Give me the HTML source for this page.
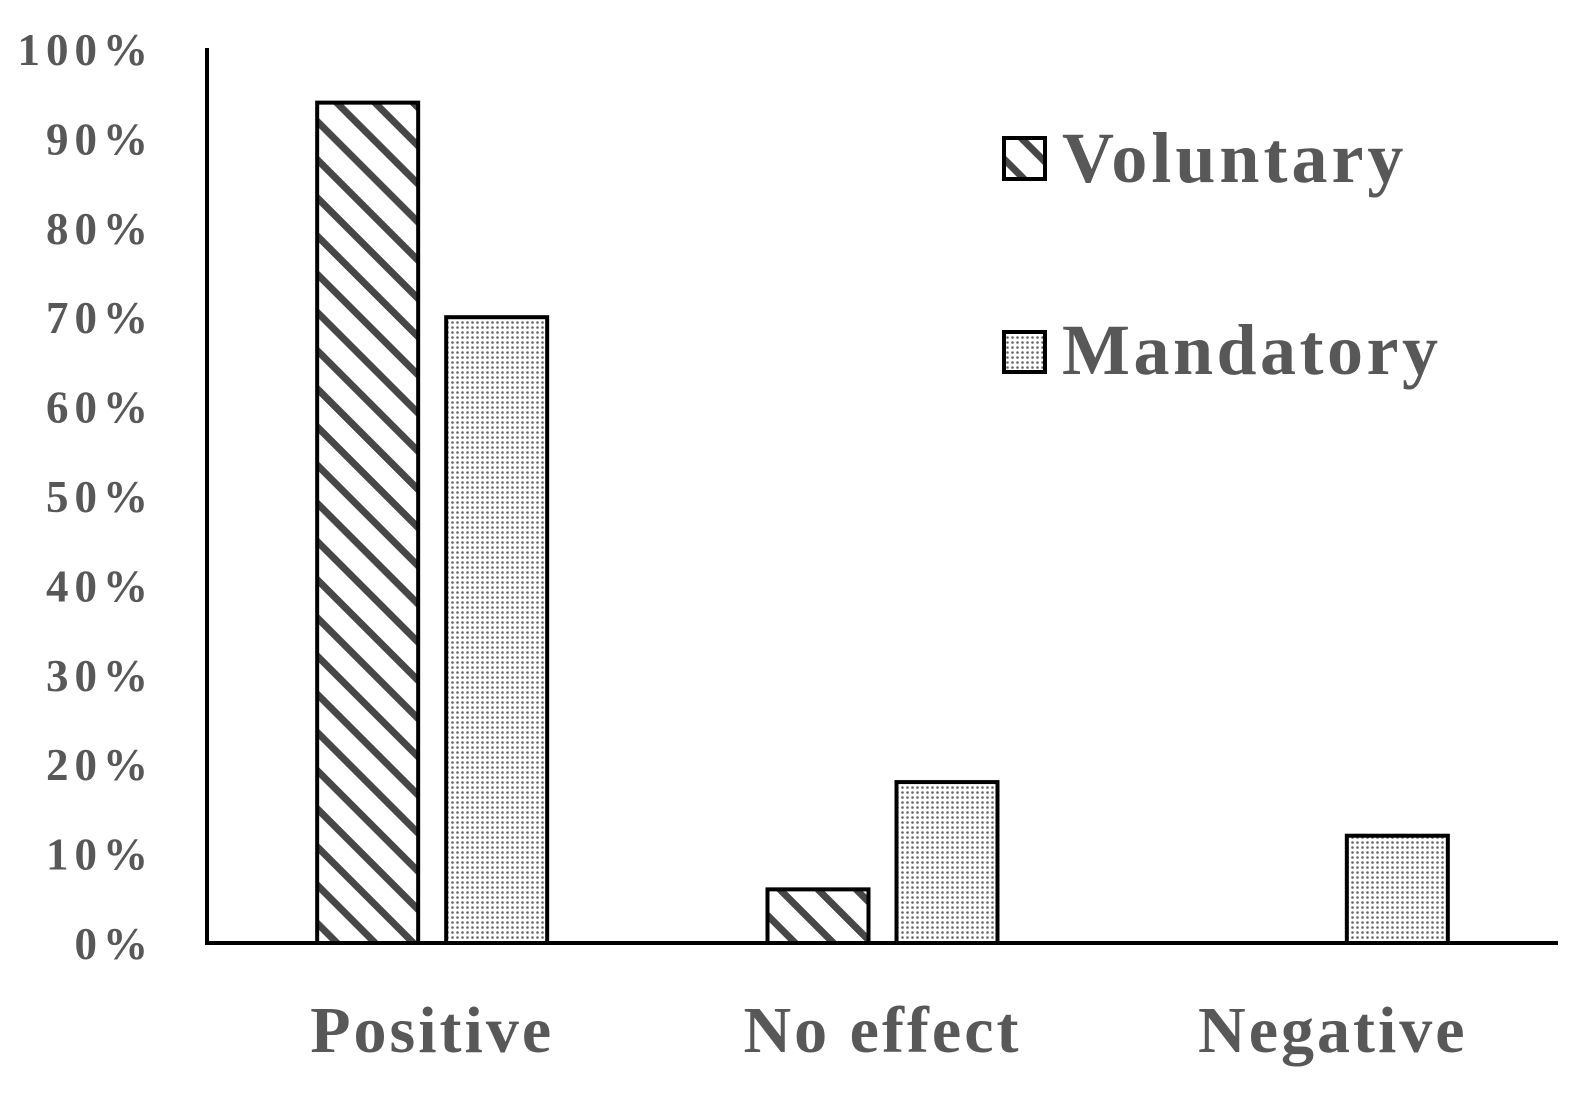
<!DOCTYPE html>
<html><head><meta charset="utf-8"><style>
html,body{margin:0;padding:0;background:#fff;}
svg text{font-family:"Liberation Serif",serif;font-weight:bold;fill:#585858;}
</style></head><body>
<svg id="chart" width="1585" height="1097" xmlns="http://www.w3.org/2000/svg">
<defs>
<pattern id="hatch" width="27" height="27" patternUnits="userSpaceOnUse" patternTransform="rotate(-45)">
<rect x="0" y="0" width="7" height="27" fill="#474747"/>
</pattern>
<pattern id="dots" width="5" height="5" patternUnits="userSpaceOnUse">
<rect width="5" height="5" fill="#fff"/>
<circle cx="2.5" cy="2.5" r="1.3" fill="#666"/>
</pattern>
</defs>
<g id="yaxis"></g>
<g id="bars"></g>
<g id="xaxis"></g>
<g>
<g>
<rect x="1004" y="138" width="41" height="41" fill="url(#hatch)" stroke="#000" stroke-width="4"/>
<text x="1062" y="182" font-size="72" letter-spacing="4">Voluntary</text>
</g>
<g>
<rect x="1004" y="332" width="41" height="40" fill="url(#dots)" stroke="#000" stroke-width="4"/>
<text x="1062" y="374" font-size="72" letter-spacing="3.5">Mandatory</text>
</g>
</g>
</svg>
<script>
const categories = ["Positive", "No effect", "Negative"];
const voluntary = [94, 6, 0];
const mandatory = [70, 18, 12];
const yTicks = [0, 10, 20, 30, 40, 50, 60, 70, 80, 90, 100];

const NS = "http://www.w3.org/2000/svg";
const x0 = 207, x1 = 1558, yBase = 943, yTop = 49;
const y = v => yBase - (v / 100) * (yBase - yTop);
const band = (x1 - x0) / categories.length;
const cx = i => x0 + band * (i + 0.5);
function mk(tag, attrs, parent) {
  const e = document.createElementNS(NS, tag);
  for (const k in attrs) e.setAttribute(k, attrs[k]);
  parent.appendChild(e);
  return e;
}
const yg = document.getElementById('yaxis');
const bg = document.getElementById('bars');
const xg = document.getElementById('xaxis');
yTicks.forEach(t => {
  const el = mk('text', {x: 154, y: y(t) + 16, 'font-size': 45, 'text-anchor': 'end', 'letter-spacing': 6}, yg);
  el.textContent = t + '%';
  
  
});
categories.forEach((c, i) => {
  const bw = 101;
  [[voluntary[i], 'url(#hatch)', cx(i) - 115, 'voluntary'], [mandatory[i], 'url(#dots)', cx(i) + 14, 'mandatory']].forEach(([v, f, bx, s]) => {
    if (v <= 0) return;
    const r = mk('rect', {x: bx, y: y(v), width: bw, height: yBase - y(v), fill: f, stroke: '#000', 'stroke-width': 4}, bg);
    
    
  });
  const t = mk('text', {x: cx(i), y: 1052, 'font-size': 66, 'text-anchor': 'middle', 'letter-spacing': 3}, xg);
  t.textContent = c;
  
  
});
const ya = mk('line', {x1: x0, y1: 48, x2: x0, y2: yBase + 2, stroke: '#000', 'stroke-width': 4}, yg);


const xa = mk('line', {x1: x0 - 2, y1: yBase, x2: x1, y2: yBase, stroke: '#000', 'stroke-width': 4}, xg);


</script>
</body></html>
